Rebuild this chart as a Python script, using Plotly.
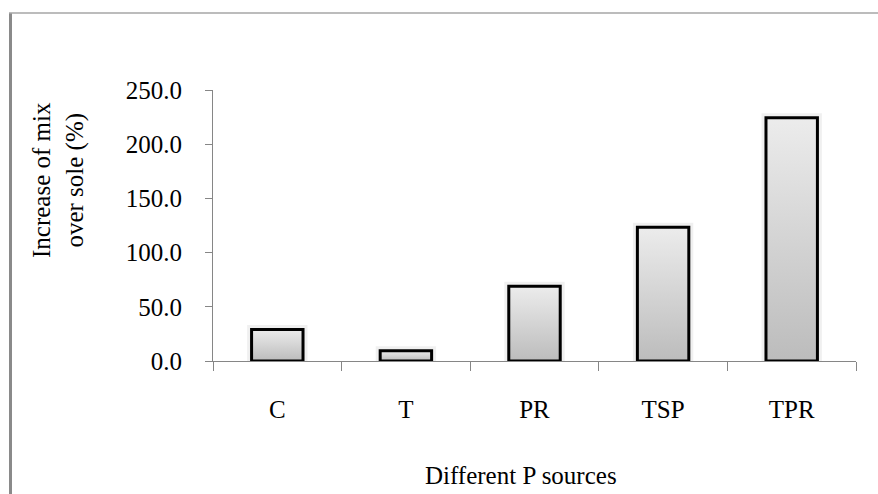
import plotly.graph_objects as go

categories = ["C", "T", "PR", "TSP", "TPR"]
values = [29.0, 9.5, 69.0, 123.5, 224.5]
y_ticks = [0, 50, 100, 150, 200, 250]
y_tick_labels = ["0.0", "50.0", "100.0", "150.0", "200.0", "250.0"]
y_title = "Increase of mix<br>over sole (%)"
x_title = "Different P sources"

W, H = 878, 494
L, R, T, B = 213, 22, 90, 133
PW = W - L - R
PH = H - T - B
BAR_W = 0.4
FONT = "Liberation Serif, Times New Roman, serif"
AXIS_COLOR = "#868686"

xs = list(range(len(categories)))


def bar_outline(i, v):
    h = BAR_W / 2
    return [i - h, i + h, i + h, i - h, i - h], [0, 0, v, v, 0]


fig = go.Figure()
# soft shadow halo behind the bars
for i, v in zip(xs, values):
    bx, by = bar_outline(i, v)
    fig.add_trace(go.Scatter(
        x=bx, y=by, mode="lines",
        line=dict(color="rgba(0,0,0,0.06)", width=9),
        hoverinfo="skip", showlegend=False))
# bars: gradient fill with black outline
for i, v, c in zip(xs, values, categories):
    bx, by = bar_outline(i, v)
    fig.add_trace(go.Scatter(
        x=bx, y=by, fill="toself", mode="lines",
        line=dict(color="black", width=3),
        fillgradient=dict(type="vertical",
                          colorscale=[[0, "#bcbcbc"], [1, "#ececec"]]),
        name=c, hoveron="fills", showlegend=False))

fig.update_layout(
    width=W, height=H,
    margin=dict(l=L, r=R, t=T, b=B, pad=0),
    paper_bgcolor="white", plot_bgcolor="white",
    font=dict(family=FONT, size=25, color="black"),
    showlegend=False,
    xaxis=dict(range=[-0.5, len(categories) - 0.5],
               tickmode="array", tickvals=xs, ticktext=categories,
               ticks="", showgrid=False, zeroline=False,
               showline=True, linecolor=AXIS_COLOR, linewidth=1,
               ticklabelstandoff=26,
               minor=dict(tickmode="array",
                          tickvals=[i - 0.5 for i in range(len(categories) + 1)],
                          ticks="outside", ticklen=9, tickcolor=AXIS_COLOR,
                          tickwidth=1, showgrid=False)),
    yaxis=dict(range=[0, 250], tickmode="array", tickvals=y_ticks,
               ticktext=y_tick_labels, ticks="outside", ticklen=7,
               tickcolor=AXIS_COLOR, tickwidth=1,
               showgrid=False, zeroline=False,
               showline=True, linecolor=AXIS_COLOR, linewidth=1,
               ticklabelstandoff=18),
    annotations=[
        dict(text=y_title, textangle=-90, xref="paper", yref="paper",
             x=(58 - L) / PW, y=(H - B - 180) / PH,
             xanchor="center", yanchor="middle", showarrow=False,
             font=dict(family=FONT, size=25, color="black")),
        dict(text=x_title, xref="paper", yref="paper",
             x=(521 - L) / PW, y=-(475 - (H - B)) / PH,
             xanchor="center", yanchor="middle", showarrow=False,
             font=dict(family=FONT, size=25, color="black")),
    ],
    shapes=[
        # frame: left thick border and top line
        dict(type="line", xref="paper", yref="paper",
             x0=(10.5 - L) / PW, x1=(10.5 - L) / PW,
             y0=(H - B - 13) / PH, y1=(H - B - H) / PH,
             line=dict(color="#8a8a8a", width=3)),
        dict(type="line", xref="paper", yref="paper",
             x0=(9 - L) / PW, x1=(W - L) / PW,
             y0=(H - B - 13) / PH, y1=(H - B - 13) / PH,
             line=dict(color="#a6a6a6", width=1.5)),
    ],
)

fig.write_html("out.html")
